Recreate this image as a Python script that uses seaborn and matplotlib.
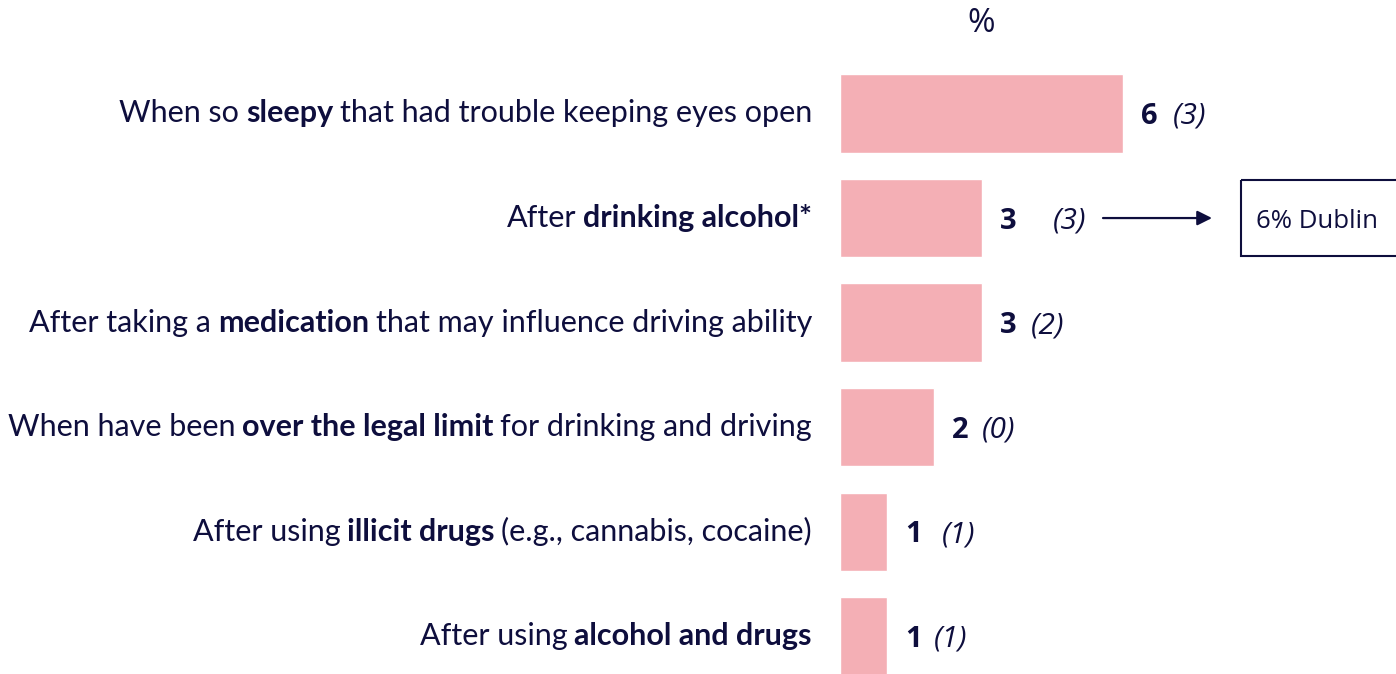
import matplotlib
matplotlib.use("Agg")
import matplotlib.pyplot as plt
from matplotlib.patches import Rectangle
import seaborn as sns
import pandas as pd

# Row labels split into regular / bold / regular pieces
label_pre = ["When so", "After", "After taking a", "When have been", "After using", "After using"]
label_bold = ["sleepy", "drinking alcohol*", "medication", "over the legal limit",
              "illicit drugs", "alcohol and drugs"]
label_post = ["that had trouble keeping eyes open", "", "that may influence driving ability",
              "for drinking and driving", "(e.g., cannabis, cocaine)", ""]
values = [6, 3, 3, 2, 1, 1]
previous = [3, 3, 2, 0, 1, 1]
unit_label = "%"
callout_text = "6% Dublin"
callout_row = 1

NAVY = "#0E0E3D"
PINK = "#F4AFB5"
LABEL_FONT = ["Lato", "DejaVu Sans"]
NUM_FONT = ["Open Sans", "DejaVu Sans"]

sns.set_theme(style="white")
plt.rcParams["font.family"] = LABEL_FONT

categories = [" ".join(p for p in (a, b, c) if p) for a, b, c in zip(label_pre, label_bold, label_post)]
df = pd.DataFrame({"item": categories, "pct": values})

W, H = 1396, 674
fig = plt.figure(figsize=(W / 100, H / 100), dpi=100)
left = 840 / W
ax = fig.add_axes([left, 0, 1 - left, 1])
sns.barplot(data=df, y="item", x="pct", orient="h", color=PINK, saturation=1,
            width=0.75, ax=ax)
px_per_unit = 47.17
ax.set_xlim(0, (W - 840) / px_per_unit)
ax.set_ylim(5.36, -1.085)
ax.axis("off")

PT = 0.72  # points per pixel at 100 dpi
label_size = 22
space = 4.8

# Rich row labels, right-aligned left of the bars
for i in range(len(values)):
    segs = [(label_pre[i], "normal"), (label_bold[i], "bold"), (label_post[i], "normal")]
    segs = [s for s in segs if s[0]]
    prev = None
    for text, weight in reversed(segs):
        if prev is None:
            prev = ax.annotate(text, xy=(0, i), xycoords=("axes fraction", "data"),
                               xytext=(-28 * PT, 0), textcoords="offset points",
                               ha="right", va="center", fontsize=label_size,
                               fontweight=weight, color=NAVY)
        else:
            prev = ax.annotate(text, xy=(0, 0.5), xycoords=prev,
                               xytext=(-space, 0), textcoords="offset points",
                               ha="right", va="center", fontsize=label_size,
                               fontweight=weight, color=NAVY)

# Value labels with previous-wave values in brackets
gaps = [15, 37, 15, 13, 20, 12]
for i, (v, p) in enumerate(zip(values, previous)):
    t = ax.annotate(str(v), xy=(v, i), xytext=(18 * PT, -3 * PT), textcoords="offset points",
                    ha="left", va="center", fontsize=21, fontweight="bold",
                    family=NUM_FONT, color=NAVY)
    ax.annotate(f"({p})", xy=(1, 0.5), xycoords=t, xytext=(gaps[i] * PT, 0),
                textcoords="offset points", ha="left", va="center", fontsize=21.5,
                fontstyle="italic", family=NUM_FONT, color=NAVY)

# Unit header above the bars
ax.text(max(values) / 2, 0.965, unit_label, transform=ax.get_xaxis_transform(),
        ha="center", va="center", fontsize=24, family=NUM_FONT, color=NAVY)

# Callout box with arrow
box_x0 = (1241 - 840) / px_per_unit
half_h = 0.36
ax.add_patch(Rectangle((box_x0, callout_row - half_h), 10, 2 * half_h,
                       fill=False, edgecolor=NAVY, linewidth=1.5, clip_on=True))
ax.annotate(callout_text, xy=(box_x0 + 15 / px_per_unit, callout_row), xytext=(0, -3 * PT),
            textcoords="offset points", ha="left", va="center",
            fontsize=18.5, family=NUM_FONT, color=NAVY)
arrow_end = box_x0 - 29 / px_per_unit
ax.annotate("", xy=(arrow_end, callout_row), xytext=(arrow_end - 109 / px_per_unit, callout_row),
            arrowprops=dict(arrowstyle="-|>", color=NAVY, lw=1.6, mutation_scale=22,
                            shrinkA=0, shrinkB=0))

fig.savefig("out.png", dpi=100, facecolor="white")
